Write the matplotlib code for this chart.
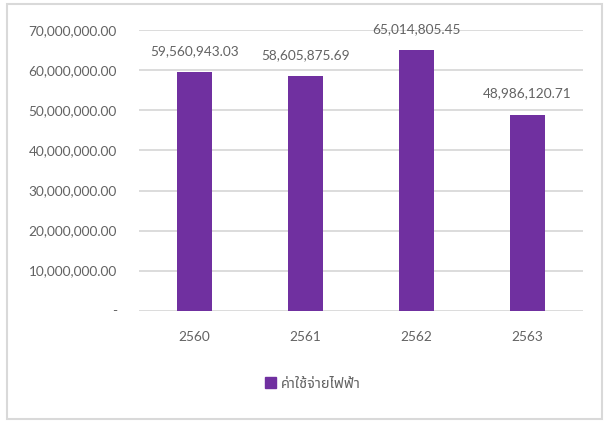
import matplotlib
matplotlib.use("Agg")
import matplotlib.pyplot as plt
from matplotlib import font_manager
from matplotlib.ft2font import FT2Font
from matplotlib.patches import Rectangle

# data
years = ["2560", "2561", "2562", "2563"]
values = [59560943.03, 58605875.69, 65014805.45, 48986120.71]
series_name = "ค่าใช้จ่ายไฟฟ้า"
yticks = [0, 10e6, 20e6, 30e6, 40e6, 50e6, 60e6, 70e6]

purple = "#7030a0"
grey_text = "#626262"
grid_col = "#d9d9d9"

# pick a font that has Thai glyphs
names = {f.name for f in font_manager.fontManager.ttflist}
thai_font = None
for cand in ["Noto Sans Thai", "IBM Plex Sans Thai", "Sarabun", "Prompt", "Kanit"]:
    if cand in names:
        thai_font = cand
        break
if thai_font is None:
    for f in font_manager.fontManager.ttflist:
        try:
            if ord("ค") in FT2Font(f.fname).get_charmap():
                thai_font = f.name
                break
        except Exception:
            pass

num_font = ["Lato", "DejaVu Sans"]
plt.rcParams["font.family"] = num_font

fig = plt.figure(figsize=(6.09, 4.23), dpi=100)
ax = fig.add_axes([139 / 609, 1 - 310.5 / 423, 444 / 609, 280 / 423])

x = range(len(years))
bars = ax.bar(x, values, width=0.31, color=purple, zorder=3)

ax.set_xlim(-0.5, 3.5)
ax.set_ylim(0, 70e6)
ax.set_yticks(yticks)
ax.set_yticklabels(["-"] + ["{:,.2f}".format(v) for v in yticks[1:]])
ax.set_xticks(list(x))
ax.set_xticklabels(years)
ax.tick_params(length=0, labelsize=9.8, colors=grey_text)
ax.tick_params(axis="y", pad=16)
ax.tick_params(axis="x", pad=15)
ax.grid(axis="y", color=grid_col, linewidth=1.3, zorder=0)
for s in ax.spines.values():
    s.set_visible(False)

for b, v in zip(bars, values):
    ax.annotate("{:,.2f}".format(v), (b.get_x() + b.get_width() / 2, v),
                xytext=(0, 11), textcoords="offset points",
                ha="center", va="bottom", fontsize=9.8, color=grey_text)

leg_font = [thai_font, "DejaVu Sans"] if thai_font else ["DejaVu Sans"]
fig.legend([Rectangle((0, 0), 1, 1, color=purple)], [series_name],
           loc="center", bbox_to_anchor=(313 / 609, 1 - 384 / 423),
           frameon=False, handlelength=0.75, handleheight=0.75,
           handletextpad=0.3, labelcolor=grey_text,
           prop={"family": leg_font, "size": 10.5})

# chart border
fig.patches.append(Rectangle((7 / 609, 4 / 423), 595 / 609, 415 / 423,
                             transform=fig.transFigure, fill=False,
                             edgecolor=grid_col, linewidth=1.5))

fig.savefig("out.png", dpi=100)
